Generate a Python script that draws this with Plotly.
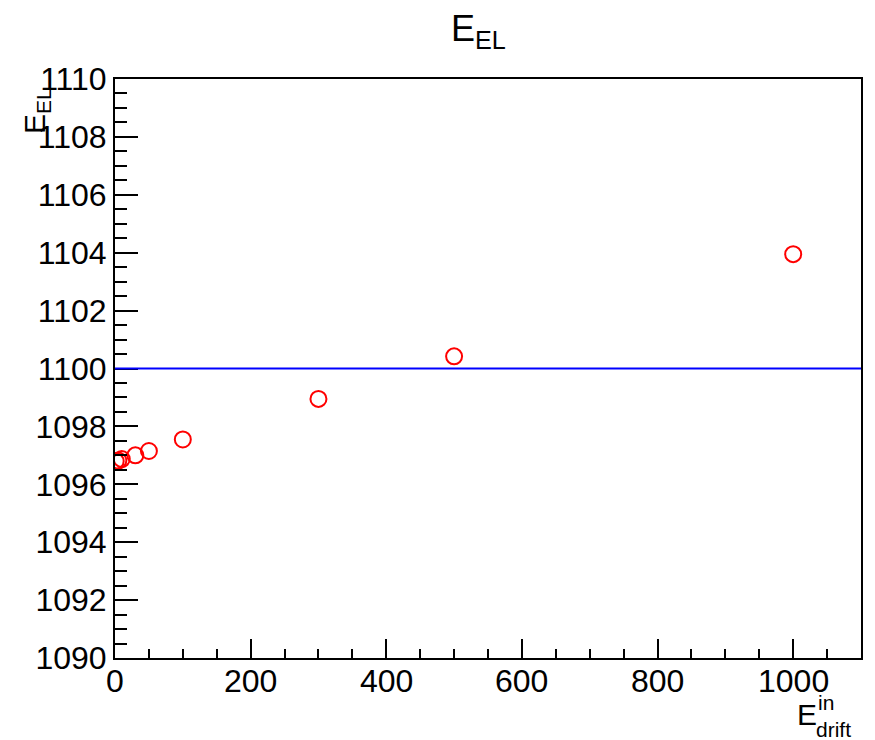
import plotly.graph_objects as go

# Data
e_drift = [1, 5, 10, 30, 50, 100, 300, 500, 1000]
e_el = [1096.80, 1096.82, 1096.87, 1097.00, 1097.15, 1097.55, 1098.95, 1100.42, 1103.95]
ref_level = 1100.0
x_range = [0, 1100]
y_range = [1090, 1110]
x_tick_vals = [0, 200, 400, 600, 800, 1000]
x_tick_text = ["0", "200", "400", "600", "800", "1000"]

W, H = 875, 740
L, R, T, B = 115, 14, 79, 82
PW, PH = W - L - R, H - T - B

def px(xp):
    return (xp - L) / PW

def py(yp):
    return (H - B - yp) / PH

FONT = "Liberation Sans, Arial, Helvetica, sans-serif"

fig = go.Figure()
fig.add_trace(go.Scatter(
    x=e_drift, y=e_el, mode="markers",
    marker=dict(symbol="circle-open", size=16, color="#ff0000",
                line=dict(width=2, color="#ff0000")),
    showlegend=False,
))
fig.add_hline(y=ref_level, line=dict(color="#0000ff", width=2))

axis_common = dict(
    showgrid=False, zeroline=False, showline=True, linecolor="black",
    linewidth=2, mirror=True, ticks="inside", tickcolor="black", tickwidth=2,
    tickfont=dict(family=FONT, size=32, color="black"),
)
fig.update_xaxes(range=x_range, dtick=200, tick0=0, ticklen=19, showticklabels=False,
                 minor=dict(dtick=50, ticks="inside", ticklen=9,
                            tickcolor="black", tickwidth=2, showgrid=False),
                 **axis_common)
fig.update_yaxes(range=y_range, dtick=2, tick0=1090, ticklen=23,
                 minor=dict(dtick=0.5, ticks="inside", ticklen=12,
                            tickcolor="black", tickwidth=2, showgrid=False),
                 **axis_common)

ann = []
# X tick labels placed close to the axis (ROOT style)
for v, t in zip(x_tick_vals, x_tick_text):
    ann.append(dict(text=t, x=v, y=py(681), xref="x", yref="paper",
                    showarrow=False, xanchor="center", yanchor="middle",
                    font=dict(family=FONT, size=32, color="black")))
# Title
ann.append(dict(text="E<sub>EL</sub>", x=px(478), y=py(31), xref="paper", yref="paper",
                showarrow=False, xanchor="center", yanchor="middle",
                font=dict(family=FONT, size=36, color="black")))
# Y-axis title (rotated)
ann.append(dict(text="E<sub>EL</sub>", x=px(36), y=py(86), xref="paper", yref="paper",
                showarrow=False, xanchor="center", yanchor="top", textangle=-90,
                font=dict(family=FONT, size=30, color="black")))
# X-axis title: E with stacked super/subscript
ann.append(dict(text="E", x=px(807), y=py(714), xref="paper", yref="paper",
                showarrow=False, xanchor="center", yanchor="middle",
                font=dict(family=FONT, size=30, color="black")))
ann.append(dict(text="in", x=px(816), y=py(702), xref="paper", yref="paper",
                showarrow=False, xanchor="left", yanchor="middle",
                font=dict(family=FONT, size=21, color="black")))
ann.append(dict(text="drift", x=px(814), y=py(729), xref="paper", yref="paper",
                showarrow=False, xanchor="left", yanchor="middle",
                font=dict(family=FONT, size=21, color="black")))

fig.update_layout(
    width=W, height=H, margin=dict(l=L, r=R, t=T, b=B),
    paper_bgcolor="white", plot_bgcolor="white",
    annotations=ann,
)
fig.write_html("out.html")
